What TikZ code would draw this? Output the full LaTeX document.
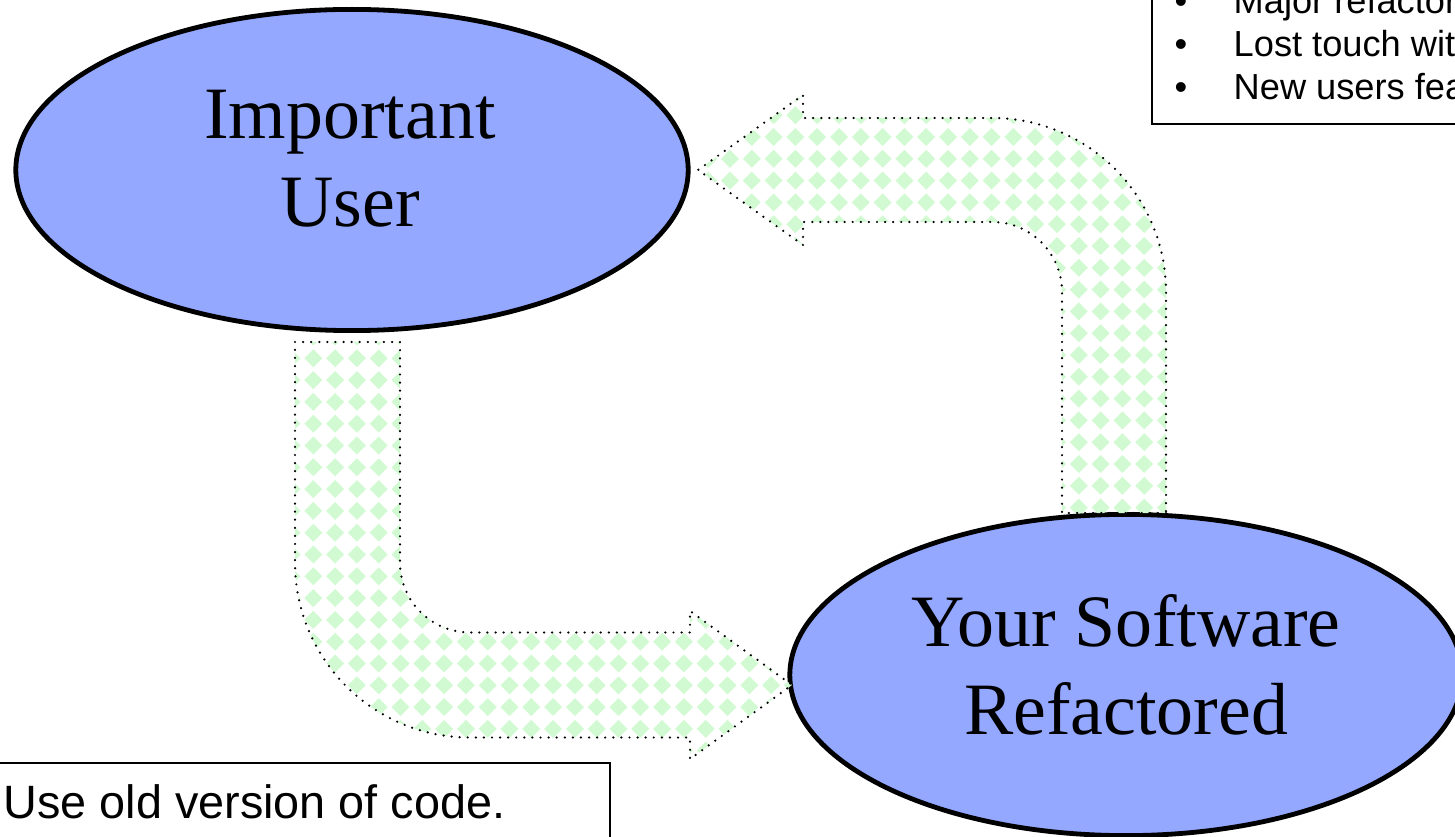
\documentclass[tikz,border=0pt]{standalone}
\usepackage{fontspec}
\setmainfont{Liberation Serif}
\setsansfont{Liberation Sans}
\usetikzlibrary{shapes.geometric}
\definecolor{bubblefill}{RGB}{148,168,255}
\definecolor{patgreen}{RGB}{210,250,210}
\def\gridsep{21.8}

\begin{document}
\begin{tikzpicture}[x=0.01cm, y=-0.01cm]
    \tikzstyle{bubble}=[ellipse, draw=black, line width=0.048cm, fill=bubblefill, minimum width=6.72cm, minimum height=3.21cm, inner sep=0pt]
    \tikzstyle{bubble text}=[align=center, inner sep=0pt, font=\fontsize{21}{25}\selectfont]
    \tikzstyle{block arrow}=[draw=black, line width=0.7pt, line cap=round, dash pattern=on 0pt off 2.3pt]
    \tikzstyle{note}=[draw=black, line width=0.015cm]
    \tikzstyle{note text}=[font=\sffamily\fontsize{13.3}{16}\selectfont, anchor=base west, inner sep=0pt]
    \tikzstyle{list text}=[font=\sffamily\fontsize{10.3}{12}\selectfont, anchor=base west, inner sep=0pt]

    \useasboundingbox (0,0) rectangle (1455,837);

    % Draw the two ellipses
    \node[bubble] (user) at (352,170) {};
    \node[bubble] (refact) at (1126,675) {};
    \node[bubble text] (user-text) at (350,159) {Important\\User};
    \node[bubble text] (refact-text) at (1126,665) {Your Software\\Refactored};

    % Block arrow from the user down to the refactored software
    \draw[block arrow, path picture={
        \foreach \i in {0,...,23}
            \foreach \j in {0,...,20}
                \fill[patgreen] (291.5+\gridsep*\i,336.5+\gridsep*\j) +(-9,0) -- +(0,-9) -- +(9,0) -- +(0,9) -- cycle;
        }]
        (295,342) -- (400,342) -- (400,562.5)
        .. controls (400,601.2) and (431.3,632.5) .. (470,632.5)
        -- (690,632.5) -- (690,611) -- (792,685) -- (690,759) -- (690,737.5) -- (470,737.5)
        .. controls (373.3,737.5) and (295,659.2) .. (295,562.5) -- cycle;

    % Block arrow from the refactored software back up to the user
    \draw[block arrow, path picture={
        \foreach \i in {0,...,23}
            \foreach \j in {0,...,20}
                \fill[patgreen] (686.4+\gridsep*\i,93.4+\gridsep*\j) +(-9,0) -- +(0,-9) -- +(9,0) -- +(0,9) -- cycle;
        }]
        (1166,513) -- (1062,513) -- (1062,292)
        .. controls (1062,253.3) and (1030.7,222) .. (992,222)
        -- (803,222) -- (803,245) -- (698,170) -- (803,95) -- (803,118) -- (992,118)
        .. controls (1088.1,118) and (1166,195.9) .. (1166,292) -- cycle;

    % Notes
    \draw[note] (1152,-10) rectangle (1470,124);
    \foreach \n/\y/\txt in {1/14/Major refactoring, 2/57/Lost touch with, 3/100/New users features} {
        \node[list text, anchor=base] (B-\n) at (1181,\y) {\textbullet};
        \node[list text] (L-\n) at (1233,\y) {\txt};
    }

    \draw[note] (-10,763) rectangle (610,850);
    \node[note text] (old) at (3,818) {Use old version of code.};
\end{tikzpicture}
\end{document}
